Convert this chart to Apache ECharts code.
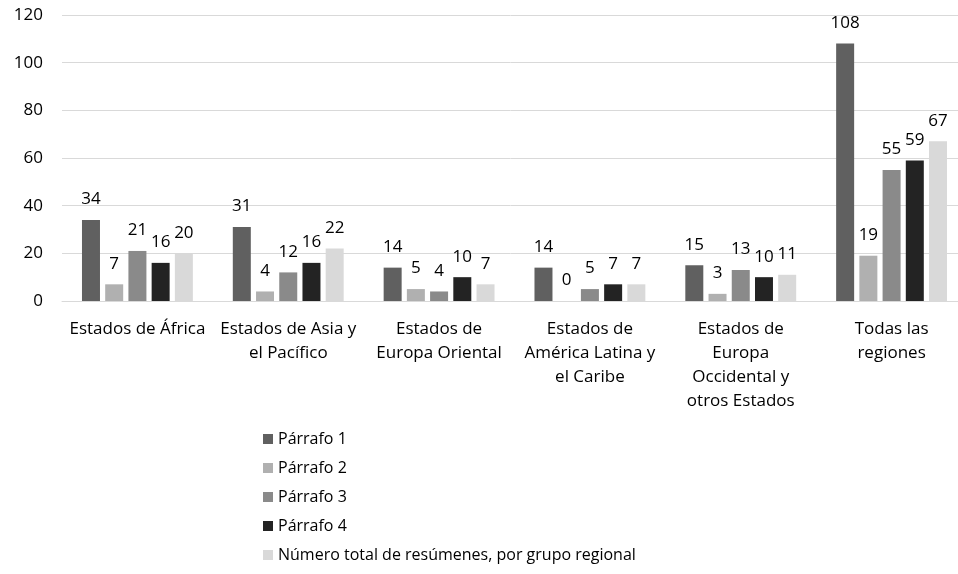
<!DOCTYPE html>
<html>
<head>
<meta charset="utf-8">
<script src="https://cdn.jsdelivr.net/npm/echarts@6/dist/echarts.min.js"></script>
<style>
    html, body { margin: 0; padding: 0; background: #ffffff; }
    #main { width: 958px; height: 574px; }
</style>
</head>
<body>
<div id="main"></div>
<script>
// categorías (grupos regionales)
const categories = [
    'Estados de África',
    'Estados de Asia y\nel Pacífico',
    'Estados de\nEuropa Oriental',
    'Estados de\nAmérica Latina y\nel Caribe',
    'Estados de\nEuropa\nOccidental y\notros Estados',
    'Todas las\nregiones'
]

// valores por serie
const parrafo1 = [34, 31, 14, 14, 15, 108]
const parrafo2 = [7, 4, 5, 0, 3, 19]
const parrafo3 = [21, 12, 4, 5, 13, 55]
const parrafo4 = [16, 16, 10, 7, 10, 59]
const totalRegional = [20, 22, 7, 7, 11, 67]

const seriesNames = ['Párrafo 1', 'Párrafo 2', 'Párrafo 3', 'Párrafo 4', 'Número total de resúmenes, por grupo regional']
const seriesData = [parrafo1, parrafo2, parrafo3, parrafo4, totalRegional]
const seriesColors = ['#606060', '#b0b0b0', '#8a8a8a', '#232323', '#d9d9d9']

const fontFamily = '"Open Sans", sans-serif'
const fontSize = 17

const myChart = echarts.init(document.getElementById('main'), null, { renderer: 'canvas' })

// el área de trazado continúa un poco más allá del borde derecho (recortada como en la imagen)
const option = {
    animation: false,
    textStyle: { fontFamily: fontFamily },
    grid: {
        left: 62,
        width: 905,
        top: 15,
        height: 286,
        outerBoundsMode: 'none'
    },
    legend: {
        orient: 'vertical',
        left: 258,
        top: 426,
        itemWidth: 10,
        itemHeight: 10,
        itemGap: 13,
        icon: 'rect',
        textStyle: { fontFamily: fontFamily, fontSize: 16, color: '#000' },
        data: seriesNames
    },
    xAxis: {
        type: 'category',
        data: categories,
        axisLine: { lineStyle: { color: '#d9d9d9', width: 1 } },
        axisTick: { show: false },
        axisLabel: {
            interval: 0,
            color: '#000',
            fontSize: fontSize,
            lineHeight: 24,
            margin: 16,
            fontFamily: fontFamily
        }
    },
    yAxis: {
        type: 'value',
        min: 0,
        max: 120,
        interval: 20,
        axisLine: { show: false },
        axisTick: { show: false },
        splitLine: { lineStyle: { color: '#d9d9d9', width: 1 } },
        axisLabel: { color: '#000', fontSize: fontSize, margin: 19, fontFamily: fontFamily }
    },
    series: seriesNames.map((name, i) => ({
        name: name,
        type: 'bar',
        data: seriesData[i],
        barWidth: 18,
        barGap: '29%',
        itemStyle: { color: seriesColors[i] },
        label: {
            show: true,
            position: 'top',
            distance: 12,
            color: '#000',
            fontSize: fontSize,
            fontFamily: fontFamily
        }
    }))
}

myChart.setOption(option)
</script>
</body>
</html>
